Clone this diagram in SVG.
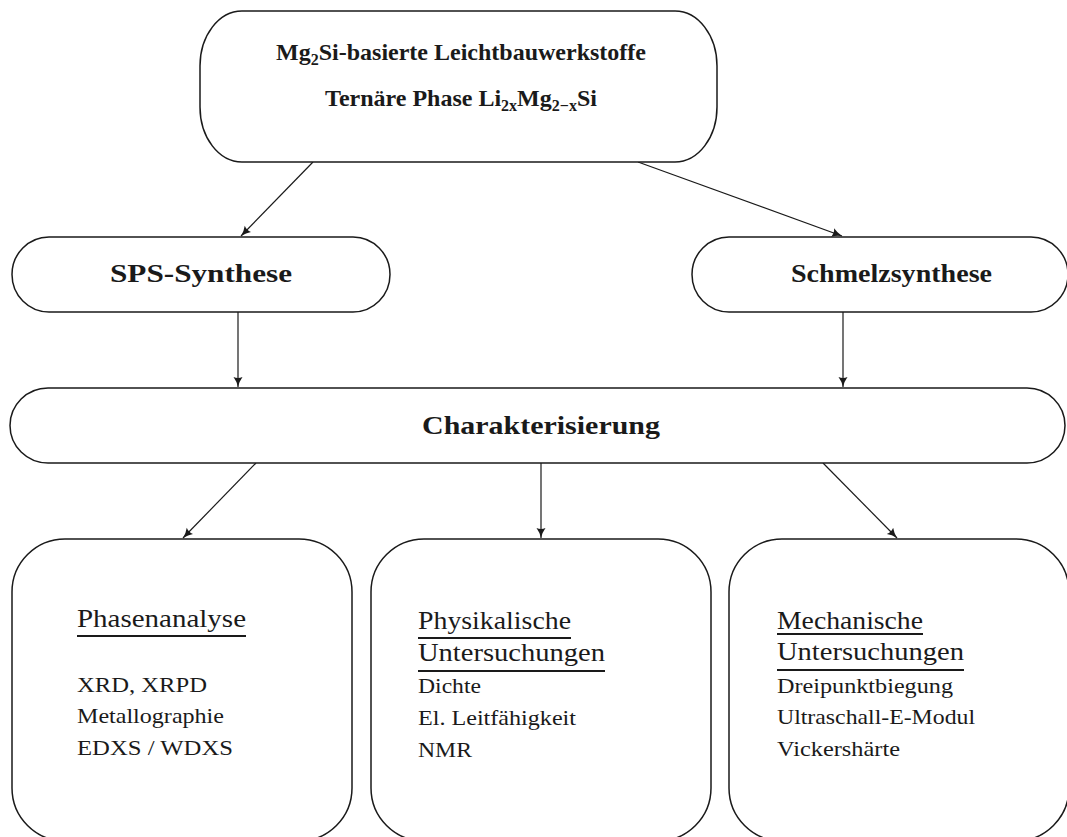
<svg xmlns="http://www.w3.org/2000/svg" width="1067" height="837" viewBox="0 0 1067 837">
<style>
.box{fill:#fff;stroke:#1a1a1a;stroke-width:1.5}
.conn{stroke:#1a1a1a;stroke-width:1.2;fill:none}
.b{font-family:"Liberation Serif",serif;font-weight:bold;font-size:25px;fill:#1a1a1a}
.t{font-family:"Liberation Serif",serif;font-weight:bold;font-size:24px;fill:#1a1a1a;text-anchor:middle}
.h{font-family:"Liberation Serif",serif;font-size:25px;fill:#1a1a1a}
.i{font-family:"Liberation Serif",serif;font-size:21px;fill:#1a1a1a}
.u{stroke:#1a1a1a;stroke-width:2}
</style>
<defs>
<marker id="arr" markerUnits="userSpaceOnUse" markerWidth="12" markerHeight="10" refX="10" refY="4.5" orient="auto">
<path d="M0,0 Q4,3 10,4.5 Q4,6 0,9 Q2,4.5 0,0 z" fill="#1a1a1a"/>
</marker>
</defs>
<rect width="1067" height="837" fill="#fff"/>
<g id="connectors">
<line class="conn" x1="313" y1="162" x2="241" y2="236" marker-end="url(#arr)"/>
<line class="conn" x1="638" y1="162" x2="842" y2="236" marker-end="url(#arr)"/>
<line class="conn" x1="238" y1="312" x2="238" y2="387" marker-end="url(#arr)"/>
<line class="conn" x1="843" y1="312" x2="843" y2="387" marker-end="url(#arr)"/>
<line class="conn" x1="256" y1="463" x2="183" y2="538" marker-end="url(#arr)"/>
<line class="conn" x1="541" y1="463" x2="541" y2="538" marker-end="url(#arr)"/>
<line class="conn" x1="823" y1="463" x2="897" y2="538" marker-end="url(#arr)"/>
</g>
<g id="top">
<rect class="box" x="200" y="11" width="517" height="151" rx="42" ry="55"/>
<text class="t" x="461" y="60">Mg<tspan font-size="16" dy="5">2</tspan><tspan dy="-5">Si-basierte Leichtbauwerkstoffe</tspan></text>
<text class="t" x="461" y="106">Ternäre Phase Li<tspan font-size="16" dy="5">2x</tspan><tspan dy="-5">Mg</tspan><tspan font-size="16" dy="5">2−x</tspan><tspan dy="-5">Si</tspan></text>
</g>
<g id="sps">
<rect class="box" x="12" y="237" width="378" height="75" rx="37" ry="37.5"/>
<text class="b" x="110" y="282" textLength="182" lengthAdjust="spacingAndGlyphs">SPS-Synthese</text>
</g>
<g id="schmelz">
<rect class="box" x="692" y="237" width="376" height="75" rx="37" ry="37.5"/>
<text class="b" x="791" y="282" textLength="201" lengthAdjust="spacingAndGlyphs">Schmelzsynthese</text>
</g>
<g id="charakterisierung">
<rect class="box" x="10" y="388" width="1055" height="75" rx="38" ry="37.5"/>
<text class="b" x="422" y="434" textLength="238" lengthAdjust="spacingAndGlyphs">Charakterisierung</text>
</g>
<g id="phasenanalyse">
<rect class="box" x="12" y="539" width="340" height="302" rx="53" ry="53"/>
<text class="h" x="77" y="627" textLength="169" lengthAdjust="spacingAndGlyphs">Phasenanalyse</text>
<line class="u" x1="77" y1="636" x2="246" y2="636"/>
<text class="i" x="77" y="692" textLength="130" lengthAdjust="spacingAndGlyphs">XRD, XRPD</text>
<text class="i" x="77" y="723" textLength="147" lengthAdjust="spacingAndGlyphs">Metallographie</text>
<text class="i" x="77" y="755" textLength="156" lengthAdjust="spacingAndGlyphs">EDXS / WDXS</text>
</g>
<g id="physikalisch">
<rect class="box" x="371" y="539" width="340" height="302" rx="53" ry="53"/>
<text class="h" x="418" y="629" textLength="153" lengthAdjust="spacingAndGlyphs">Physikalische</text>
<line class="u" x1="418" y1="638" x2="571" y2="638"/>
<text class="h" x="418" y="661" textLength="187" lengthAdjust="spacingAndGlyphs">Untersuchungen</text>
<line class="u" x1="418" y1="671" x2="605" y2="671"/>
<text class="i" x="418" y="693" textLength="63" lengthAdjust="spacingAndGlyphs">Dichte</text>
<text class="i" x="418" y="725" textLength="158" lengthAdjust="spacingAndGlyphs">El. Leitfähigkeit</text>
<text class="i" x="418" y="757" textLength="54" lengthAdjust="spacingAndGlyphs">NMR</text>
</g>
<g id="mechanisch">
<rect class="box" x="729" y="539" width="340" height="302" rx="53" ry="53"/>
<text class="h" x="777" y="629" textLength="146" lengthAdjust="spacingAndGlyphs">Mechanische</text>
<line class="u" x1="777" y1="634" x2="923" y2="634"/>
<text class="h" x="777" y="660" textLength="187" lengthAdjust="spacingAndGlyphs">Untersuchungen</text>
<line class="u" x1="777" y1="670" x2="964" y2="670"/>
<text class="i" x="777" y="693" textLength="176" lengthAdjust="spacingAndGlyphs">Dreipunktbiegung</text>
<text class="i" x="777" y="724" textLength="198" lengthAdjust="spacingAndGlyphs">Ultraschall-E-Modul</text>
<text class="i" x="777" y="756" textLength="123" lengthAdjust="spacingAndGlyphs">Vickershärte</text>
</g>
</svg>
